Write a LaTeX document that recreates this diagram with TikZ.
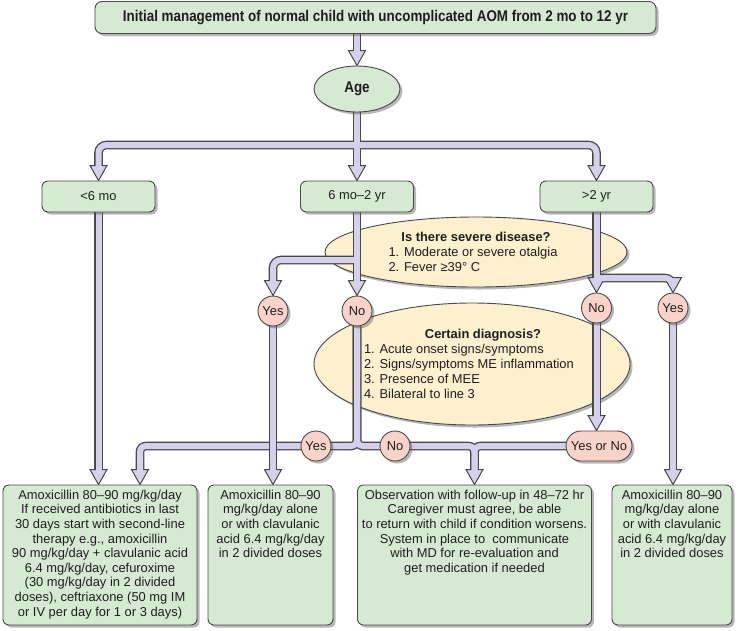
\documentclass[tikz,border=0pt]{standalone}
\usepackage{fontspec}
\setmainfont{Liberation Sans}
\newfontfamily\condf{Liberation Sans}[FakeStretch=0.865]
\usetikzlibrary{shapes.geometric,shadows,calc}
\definecolor{boxg}{RGB}{214,234,211}
\definecolor{pinkc}{RGB}{249,211,202}
\definecolor{ellc}{RGB}{253,240,207}
\definecolor{pipec}{RGB}{215,208,234}
\definecolor{edgec}{RGB}{72,72,72}
\definecolor{txtc}{RGB}{30,30,30}
\pgfdeclarelayer{elllayer}
\pgfdeclarelayer{pipelayer}
\pgfsetlayers{elllayer,pipelayer,main}
\newcommand\pipetip[1]{\filldraw[tipst] ([xshift=-8.5pt,yshift=15pt]#1) -- ([xshift=8.5pt,yshift=15pt]#1) -- (#1) -- cycle;}
\newcommand\btext[3]{\parbox[c][#1][t]{#2}{\centering\vspace*{5pt}#3}}
\newcommand\pipesMain[2]{%
 \draw[#1] (age.north |- top.south) -- ([yshift=#2pt]age.north);
 \draw[#1,rounded corners=8pt] ([yshift=#2pt]b6.north) |- (sA) -| ([yshift=#2pt]b2.north);
 \draw[#1] (age.south) -- ([yshift=#2pt]b62.north);
 \draw[#1] (b62.south) -- ([yshift=#2pt]c2.north);
 \draw[#1,rounded corners=8pt] (sB) -| ([yshift=#2pt]c1.north);
 \draw[#1] (b2.south) -- ([yshift=#2pt]c3.north);
 \draw[#1,rounded corners=8pt] (sC) -| ([yshift=#2pt]c4.north);
 \draw[#1,rounded corners=6pt] (c2.south) -- (sD) -| ([yshift=#2pt]tB1b);
 \draw[#1,rounded corners=6pt] (c2.south) -- (sD) -| ([yshift=#2pt]B3.north);
 \draw[#1,rounded corners=6pt] (yn.center) -| ([yshift=#2pt]B3.north);
 \draw[#1] (c3.south) -- ([yshift=#2pt]tYN);
 \draw[#1] (b6.south) -- ([yshift=#2pt]tB1a);
 \draw[#1] (c4.south) -- ([yshift=#2pt]tB4);
}
\newcommand\pipesTop[2]{\draw[#1] (c1.south) -- ([yshift=#2pt]tB2);}
\begin{document}
\begin{tikzpicture}[x=1pt,y=-1pt,
  shad/.style={drop shadow={shadow xshift=2.5pt,shadow yshift=-2.5pt,opacity=0.4,fill=black!70}},
  gbox/.style={draw=edgec,line width=0.9pt,fill=boxg,rounded corners=6pt,shad,inner sep=0pt,text=txtc,font=\fontsize{12.9}{14.6}\selectfont},
  ellnode/.style={ellipse,draw=edgec,line width=0.9pt,fill=ellc,shad,inner sep=0pt,text=txtc,font=\fontsize{12.9}{15}\selectfont},
  answer/.style={circle,draw=edgec,line width=0.9pt,fill=pinkc,shad,inner sep=0pt,minimum size=30pt,text=txtc,font=\fontsize{12.9}{14.6}\selectfont},
  pipeout/.style={draw=edgec,line width=8.6pt},
  pipein/.style={draw=pipec,line width=6pt},
  tipst/.style={fill=pipec,draw=edgec,line width=1pt,line join=miter}]
\useasboundingbox (0,0) rectangle (741,630);

% main nodes
\node[gbox,minimum width=561pt,minimum height=32pt,rounded corners=7pt,font=\condf\bfseries\fontsize{15.5}{17}\selectfont] (top) at (375.5,17.5) {Initial management of normal child with uncomplicated AOM from 2 mo to 12 yr};
\node[gbox,ellipse,minimum width=86pt,minimum height=46pt,font=\condf\bfseries\fontsize{15.5}{17}\selectfont] (age) at (357,89) {Age};
\node[gbox,minimum width=113pt,minimum height=31pt] (b6) at (98.5,196.5) {<6 mo};
\node[gbox,minimum width=113pt,minimum height=31pt] (b62) at (357,196.5) {6 mo–2 yr};
\node[gbox,minimum width=113pt,minimum height=31pt] (b2) at (596.5,196.5) {>2 yr};

\node[answer] (c1) at (273,311) {Yes};
\node[answer] (c2) at (357,311) {No};
\node[answer] (c3) at (596.5,308) {No};
\node[answer] (c4) at (673,308) {Yes};
\node[answer] (c5) at (316,446) {Yes};
\node[answer] (c6) at (395,446) {No};
\node[answer,rectangle,rounded corners=15pt,minimum width=66pt,minimum height=30pt] (yn) at (599,446) {Yes or No};

\node[gbox] (B1) at (100,555) {\btext{140pt}{194pt}{Amoxicillin 80–90 mg/kg/day\\If received antibiotics in last\\30 days start with second-line\\therapy e.g., amoxicillin\\90 mg/kg/day + clavulanic acid\\6.4 mg/kg/day, cefuroxime\\(30 mg/kg/day in 2 divided\\doses), ceftriaxone (50 mg IM\\or IV per day for 1 or 3 days)}};
\node[gbox] (B2) at (270.5,555) {\btext{140pt}{125pt}{Amoxicillin 80–90\\mg/kg/day alone\\or with clavulanic\\acid 6.4 mg/kg/day\\in 2 divided doses}};
\node[gbox] (B3) at (474.5,555) {\btext{140pt}{234pt}{Observation with follow-up in 48–72 hr\\Caregiver must agree, be able\\to return with child if condition worsens.\\System in place to\ \ communicate\\with MD for re-evaluation and\\get medication if needed}};
\node[gbox] (B4) at (672,555) {\btext{140pt}{120pt}{Amoxicillin 80–90\\mg/kg/day alone\\or with clavulanic\\acid 6.4 mg/kg/day\\in 2 divided doses}};

% question ellipses (behind pipes)
\begin{pgfonlayer}{elllayer}
\node[ellnode,minimum width=302pt,minimum height=70pt] (e1) at (476,252) {\parbox{175pt}{\baselineskip=15pt{\centering\bfseries Is there severe disease?\par}1. Moderate or severe otalgia\\2. Fever ≥39° C}};
\node[ellnode,minimum width=316pt,minimum height=122pt] (e2) at (472,364) {\parbox{216pt}{\baselineskip=15pt{\centering\hspace*{22pt}\bfseries Certain diagnosis?\par}1. Acute onset signs/symptoms\\2. Signs/symptoms ME inflammation\\3. Presence of MEE\\4. Bilateral to line 3}};
\end{pgfonlayer}

% junction and tip coordinates
\coordinate (sA) at (357,145);
\coordinate (sB) at (357,260);
\coordinate (sC) at (596.5,278);
\coordinate (sD) at (357,446);
\coordinate (tB1a) at (b6.south |- B1.north);
\coordinate (tB1b) at ([xshift=40pt]B1.north);
\coordinate (tB2) at (c1.south |- B2.north);
\coordinate (tB4) at (c4.south |- B4.north);
\coordinate (tYN) at (c3.south |- yn.north);

\begin{pgfonlayer}{pipelayer}
\pipesMain{pipeout}{14}
\pipetip{age.north}\pipetip{b6.north}\pipetip{b62.north}\pipetip{b2.north}
\pipetip{c1.north}\pipetip{c2.north}\pipetip{c3.north}\pipetip{c4.north}
\pipetip{tB1a}\pipetip{tB1b}\pipetip{B3.north}\pipetip{tYN}\pipetip{tB4}
\pipesMain{pipein}{12.5}
\pipesTop{pipeout}{14}
\pipetip{tB2}
\pipesTop{pipein}{12.5}
\end{pgfonlayer}
\end{tikzpicture}
\end{document}
